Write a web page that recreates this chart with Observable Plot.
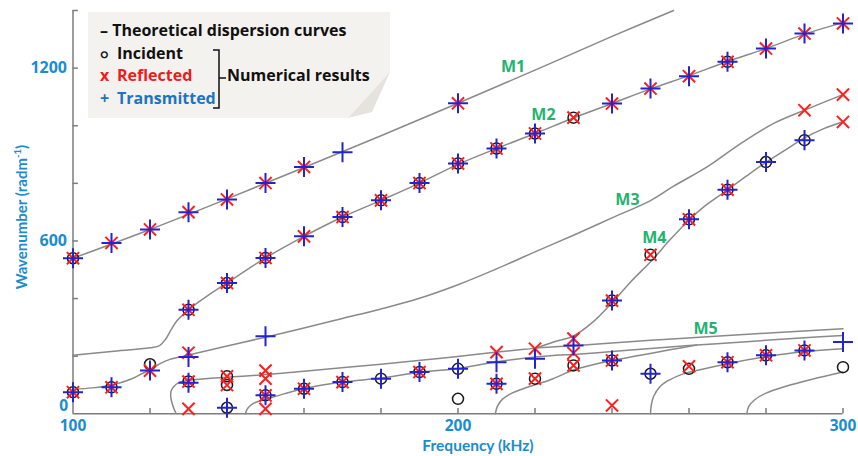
<!DOCTYPE html>
<html><head><meta charset="utf-8">
<script src="https://cdn.jsdelivr.net/npm/d3@7"></script>
<script src="https://cdn.jsdelivr.net/npm/@observablehq/plot@0.6"></script>
<style>
body{margin:0;background:#fff;}
#chart{position:relative;width:858px;height:456px;}
</style></head><body><div id="chart"></div>
<script>
// ---- theoretical dispersion curves: [frequency kHz, wavenumber rad/m]
const curveM1 = [[100,540],[120,640],[140,746],[160,855],[180,965],[200,1078],[220,1193],[240,1310],[256,1400]];
const curveM2 = [[100,203],[110,216],[120,229],[122.5,237],[124,258],[125.5,292],[127,323],[130,361],[135,410],[140,454],[150,541],[160,616],[170,683],[180,741],[190,801],[200,866],[210,921],[220,973],[230,1027],[240,1077],[250,1128],[260,1174],[270,1223],[280,1268],[290,1318],[300,1358]];
const curveM3 = [[100,85],[105,90],[110,100],[115,120],[118,140],[120,152],[121.5,165],[123,177],[125,188],[127.5,196],[130,204],[140,235],[150,266],[160,298],[170,331],[180,364],[190,401],[200,448],[210,503],[220,562],[230,620],[240,680],[250,740],[256,790],[264.7,857],[273.4,938],[282,1008],[290,1054],[300,1108]];
const curveM4 = [[126.8,0],[125.9,30],[125.4,58],[125.5,80],[126.2,95],[127.5,108],[129,114],[132,119],[140,127],[150,136],[160,148],[180,172],[195,192],[209,213],[216,222],[220,228],[222,236],[225,250],[230,270],[235,318],[240,385],[245,460],[250.4,533],[255,603],[259.5,666],[264,720],[269.9,776],[275,826],[279.9,872],[285,915],[289.8,956],[295,990],[299.8,1013]];
const curveM5 = [[220,228],[231.8,238],[250,255],[270,272],[300,295]];
const curveB1 = [[144.8,0],[145.2,15],[146,28],[147.5,40],[150,50],[155,70],[160,87],[170,110],[180,124],[190,144],[200,157],[209.3,179],[220,197],[231.8,208],[240,216],[250,227],[260,237],[270,246],[280,255],[290,264],[300,272]];
const curveB2 = [[209.7,0],[210.2,25],[211.5,50],[214,72],[218,92],[224,118],[230,152],[235,170],[240,185],[247,202],[255,222],[262,239]];
const curveB3 = [[250,0],[250.2,30],[250.8,60],[252.5,95],[255,118],[258,136],[262,150],[270,174],[280,198],[290,216],[300,226]];
const curveB4 = [[275,0],[275.5,25],[277,48],[280,72],[285,95],[292,120],[300,145]];

// ---- numerical results
const incident = [[100,540],[100,75],[110,92],[120,172],[130,361],[130,112],[140,454],[140,130],[140,100],[140,21],[150,541],[150,64],[160,87],[170,683],[170,110],[180,741],[180,122],[190,801],[190,145],[200,869],[200,156],[200,52],[210,921],[210,104],[220,973],[220,122],[230,1028],[230,168],[240,393],[240,185],[250,552],[250,139],[260,675],[260,156],[270,1222],[270,778],[270,179],[280,874],[280,203],[290,950],[290,220],[300,162]];
const reflected = [[100,540],[110,593],[120,640],[130,700],[140,744],[150,801],[160,857],[200,1078],
 [130,361],[140,454],[150,541],[160,616],[170,683],[180,741],[190,801],[200,869],[210,921],[220,973],[230,1028],[240,1077],[250,1129],[260,1172],[270,1222],[280,1268],[290,1320],[300,1355],
 [130,212],[290,1054],[300,1108],
 [240,393],[250,552],[260,675],[270,778],[300,1013],
 [100,75],[110,92],[120,150],[130,112],[130,17],[140,130],[140,100],[150,150],[150,122],[150,64],[150,17],[160,87],[170,110],[190,145],[210,214],[210,104],[220,226],[220,122],[230,261],[230,211],[230,168],[240,185],[240,29],[260,165],[270,179],[280,203],[290,220]];
const transmitted = [[100,540],[110,593],[120,640],[130,700],[140,744],[150,801],[160,857],[170,908],[200,1078],
 [130,361],[140,454],[150,541],[160,616],[170,683],[180,741],[190,801],[200,869],[210,921],[220,973],[240,1077],[250,1129],[260,1172],[270,1222],[280,1268],[290,1320],[300,1355],
 [130,197],[150,269],
 [240,393],[260,675],[270,778],[280,874],[290,950],
 [100,75],[110,92],[120,150],[130,108],[140,21],[150,64],[160,87],[170,110],[180,122],[190,145],[200,156],[210,179],[210,104],[220,191],[230,237],[240,185],[250,139],[270,179],[280,203],[290,220],[300,249]];

// ---- mode labels and ticks
const modeNames = ["M1","M2","M3","M4","M5"];
const modeF = [214.3,222.2,244,251,264.3];
const modeK = [1203,1036,741,609,296];
const xTicks = [120,140,160,180,200,220,240,260,280,300];
const yTicks = [200,400,600,800,1000,1200,1400];
const xLabels = [100,200,300];
const yLabels = [600,1200];

const curves = [["M1",curveM1],["M2",curveM2],["M3",curveM3],["M4",curveM4],["M5",curveM5],["B1",curveB1],["B2",curveB2],["B3",curveB3],["B4",curveB4]];
const lineData = curves.flatMap(([id,pts]) => pts.map(([f,k]) => ({id,f,k})));
const modeLabels = modeNames.map((n,i)=>({name:n,f:modeF[i],k:modeK[i]}));

const BLUE = "#1a8ccf", AXIS = "#7d7d7d";
const FONT = "Lato, 'Open Sans', sans-serif";
const WFONT = "'Open Sans', Lato, sans-serif";

const plot = Plot.plot({
  width: 858, height: 456,
  marginLeft: 72.5, marginRight: 15.5, marginTop: 10, marginBottom: 42.7,
  x: {domain: [100,300], axis: null},
  y: {domain: [0,1400], axis: null},
  style: {fontFamily: FONT, background: "white"},
  marks: [
    Plot.ruleX([100], {y1: 0, y2: 1400, stroke: AXIS, strokeWidth: 1.5}),
    Plot.ruleY([0], {x1: 100, x2: 300, stroke: AXIS, strokeWidth: 1.5}),
    Plot.ruleX(xTicks, {x: d=>d, y1: 0, y2: 18, stroke: AXIS, strokeWidth: 1.5}),
    Plot.ruleY(yTicks, {y: d=>d, x1: 100, x2: 101.4, stroke: AXIS, strokeWidth: 1.5}),
    Plot.text(xLabels, {x: d=>d, y: 0, text: d=>String(d), dy: 12, fill: BLUE, fontSize: 15.5, fontWeight: 700, fontFamily: WFONT}),
    Plot.text(yLabels, {x: 100, y: d=>d, text: d=>String(d), textAnchor: "end", dx: -6, fill: BLUE, fontSize: 16, fontWeight: 700, fontFamily: WFONT}),
    Plot.text([0], {x: 100, y: d=>d, text: d=>String(d), textAnchor: "end", dx: -5, dy: -8, fill: BLUE, fontSize: 15.5, fontWeight: 700, fontFamily: WFONT}),
    Plot.line(lineData, {x: "f", y: "k", z: "id", stroke: "#8a8a8a", strokeWidth: 1.5, curve: "catmull-rom"}),
    Plot.text(modeLabels, {x: "f", y: "k", text: "name", fill: "#22b46e", fontSize: 16, fontWeight: 700, fontFamily: WFONT}),
    Plot.dot(incident, {x: d=>d[0], y: d=>d[1], r: 5.5, stroke: "#1a1a1a", strokeWidth: 1.5, fill: "none"}),
    Plot.dot(reflected, {x: d=>d[0], y: d=>d[1], symbol: "times", r: 5.6, stroke: "#ff1f1f", strokeWidth: 2}),
    Plot.dot(transmitted, {x: d=>d[0], y: d=>d[1], symbol: "plus", r: 6.5, stroke: "#2323d6", strokeWidth: 2})
  ]
});

const svg = d3.select(plot);
// axis titles
svg.append("text").attr("x", 478).attr("y", 451).attr("text-anchor","middle")
  .attr("fill", BLUE).attr("font-size", 15.5).attr("font-weight", 700).attr("font-family", FONT)
  .text("Frequency (kHz)");
const yt = svg.append("text").attr("transform","translate(27,217) rotate(-90)").attr("text-anchor","middle")
  .attr("fill", BLUE).attr("font-size", 15).attr("font-weight", 700).attr("font-family", FONT);
yt.append("tspan").text("Wavenumber (radm");
yt.append("tspan").attr("font-size", 9.5).attr("dy", -6).text("-1");
yt.append("tspan").attr("dy", 6).text(")");

// legend
const lg = svg.append("g").attr("font-family", WFONT).attr("font-weight", 700).attr("font-size", 16).attr("text-anchor", "start");
lg.append("polygon").attr("points","88,12 390,12 390,72 348,118 88,118").attr("fill","#f4f2ee");
lg.append("polygon").attr("points","348,118 390,72 372,112").attr("fill","#e6e3df");
lg.append("text").attr("x",100).attr("y",36).attr("fill","#111").text("– Theoretical dispersion curves");
lg.append("text").attr("x",100).attr("y",59).attr("fill","#111").attr("font-size",13).text("○");
lg.append("text").attr("x",117).attr("y",59).attr("fill","#111").text("Incident");
lg.append("text").attr("x",100).attr("y",81).attr("fill","#ee1c1c").text("x");
lg.append("text").attr("x",117).attr("y",81).attr("fill","#ee1c1c").text("Reflected");
lg.append("text").attr("x",100).attr("y",104).attr("fill","#1c74c4").text("+");
lg.append("text").attr("x",117).attr("y",104).attr("fill","#1c74c4").text("Transmitted");
lg.append("path").attr("d","M213,50 H219 V108 H213 M219,78 H226").attr("fill","none").attr("stroke","#111").attr("stroke-width",1.5);
lg.append("text").attr("x",227).attr("y",81).attr("fill","#111").text("Numerical results");

document.getElementById("chart").appendChild(plot);
</script></body></html>
